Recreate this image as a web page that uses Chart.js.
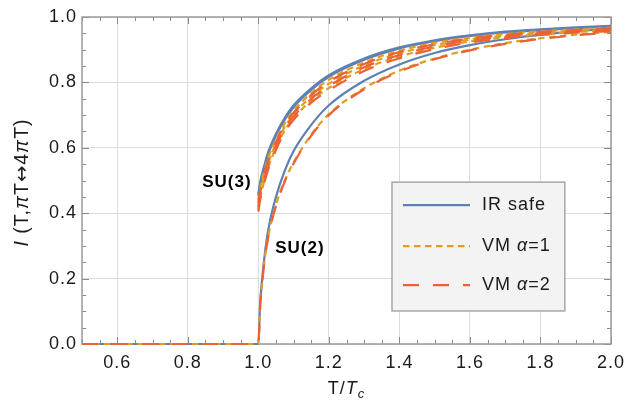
<!DOCTYPE html>
<html><head><meta charset="utf-8">
<script src="https://cdn.jsdelivr.net/npm/chart.js@4/dist/chart.umd.min.js"></script>
<style>html,body{margin:0;padding:0;background:#fff}#wrap{width:634px;height:400px}</style>
</head><body><div id="wrap"><canvas id="c" width="634" height="400"></canvas></div>
<script>
// ---- data ----
const tGrid = [0.5, 0.999, 1.0, 1.005, 1.01, 1.02, 1.03, 1.05, 1.075, 1.1, 1.15, 1.2, 1.3, 1.4, 1.5, 1.6, 1.7, 1.8, 1.9, 2.0];
// SU(3)  (null = discontinuity at T = Tc, not drawn)
const su3IrSafeA = [0, null, 0.458, 0.493, 0.518, 0.558, 0.593, 0.643, 0.692, 0.73, 0.782, 0.822, 0.873, 0.907, 0.929, 0.944, 0.955, 0.962, 0.968, 0.973];
const su3IrSafeB = [0, null, 0.452, 0.487, 0.512, 0.552, 0.587, 0.637, 0.686, 0.724, 0.777, 0.817, 0.869, 0.904, 0.926, 0.942, 0.953, 0.960, 0.966, 0.971];
const su3Vm1A    = [0, null, 0.44, 0.475, 0.5, 0.54, 0.575, 0.625, 0.675, 0.713, 0.767, 0.808, 0.861, 0.897, 0.921, 0.937, 0.948, 0.956, 0.962, 0.967];
const su3Vm1B    = [0, null, 0.425, 0.46, 0.485, 0.525, 0.56, 0.612, 0.664, 0.702, 0.756, 0.796, 0.852, 0.889, 0.914, 0.931, 0.943, 0.952, 0.958, 0.963];
const su3Vm1C    = [0, null, 0.41, 0.445, 0.47, 0.51, 0.546, 0.6, 0.653, 0.691, 0.744, 0.783, 0.841, 0.879, 0.906, 0.925, 0.938, 0.947, 0.954, 0.959];
const su3Vm2A    = [0, null, 0.432, 0.467, 0.492, 0.532, 0.567, 0.618, 0.669, 0.707, 0.761, 0.802, 0.856, 0.893, 0.917, 0.934, 0.945, 0.954, 0.96, 0.965];
const su3Vm2B    = [0, null, 0.418, 0.453, 0.478, 0.518, 0.553, 0.606, 0.658, 0.696, 0.75, 0.789, 0.846, 0.884, 0.91, 0.928, 0.94, 0.949, 0.956, 0.961];
const su3Vm2C    = [0, null, 0.405, 0.44, 0.465, 0.505, 0.54, 0.594, 0.648, 0.686, 0.738, 0.776, 0.835, 0.874, 0.902, 0.922, 0.935, 0.945, 0.952, 0.957];
// SU(2)
const su2IrSafe  = [0, 0, 0, 0.12, 0.19, 0.29, 0.36, 0.45, 0.53, 0.59, 0.67, 0.73, 0.805, 0.855, 0.89, 0.914, 0.932, 0.946, 0.957, 0.965];
const su2Vm1     = [0, 0, 0, 0.115, 0.18, 0.275, 0.34, 0.425, 0.5, 0.555, 0.64, 0.703, 0.782, 0.836, 0.873, 0.9, 0.92, 0.935, 0.946, 0.955];
const su2Vm2     = [0, 0, 0, 0.113, 0.178, 0.272, 0.337, 0.422, 0.497, 0.552, 0.637, 0.7, 0.779, 0.833, 0.871, 0.898, 0.918, 0.933, 0.944, 0.953];

const xTickLabels = [0.6, 0.8, 1.0, 1.2, 1.4, 1.6, 1.8, 2.0];
const yTickLabels = [0.0, 0.2, 0.4, 0.6, 0.8, 1.0];
const legendLabels = ['IR safe', 'VM α=1', 'VM α=2'];
const groupLabels = [{text: 'SU(3)', x: 0.911, y: 0.495}, {text: 'SU(2)', x: 1.118, y: 0.294}];

// ---- styles ----
const COLORS = {ir: '#5E81B5', vm1: '#E19C24', vm2: '#EB6235'};
const DASH = {ir: [], vm1: [6.5, 4.5], vm2: [16, 14]};
const kinds = ['ir', 'vm1', 'vm2'];
const FONT = '"Liberation Sans", Arial, sans-serif';
const ARROWFONT = '"DejaVu Sans", sans-serif';
const TXT = '#1a1a1a';

function mk(label, vals, kind, order) {
  return {
    label, kind,
    data: tGrid.map((t, i) => ({x: t, y: vals[i]})),
    borderColor: COLORS[kind], borderDash: DASH[kind], borderWidth: 2.2,
    pointRadius: 0, pointHoverRadius: 0, fill: false, clip: 5, spanGaps: false,
    cubicInterpolationMode: 'monotone', order
  };
}

const datasets = [
  mk('IR safe', su3IrSafeA, 'ir', 3), mk('IR safe', su3IrSafeB, 'ir', 3), mk('IR safe', su2IrSafe, 'ir', 3),
  mk('VM α=1', su3Vm1A, 'vm1', 2), mk('VM α=1', su3Vm1B, 'vm1', 2), mk('VM α=1', su3Vm1C, 'vm1', 2), mk('VM α=1', su2Vm1, 'vm1', 2),
  mk('VM α=2', su3Vm2A, 'vm2', 1), mk('VM α=2', su3Vm2B, 'vm2', 1), mk('VM α=2', su3Vm2C, 'vm2', 1), mk('VM α=2', su2Vm2, 'vm2', 1)
];

function rich(ctx, segs, size) {
  let w = 0;
  const out = segs.map(s => {
    const fs = s.sub ? size * 0.72 : size;
    const f = (s.italic ? 'italic ' : '') + (s.bold ? 'bold ' : '') + fs + 'px ' + (s.fam || FONT);
    ctx.font = f;
    const mw = ctx.measureText(s.t).width;
    const r = {t: s.t, f, w: mw, dy: s.sub ? size * 0.28 : 0};
    w += mw;
    return r;
  });
  return {segs: out, w};
}
function drawRich(ctx, segs, size, cx, cy) {
  const m = rich(ctx, segs, size);
  let x = cx - m.w / 2;
  ctx.textBaseline = 'middle';
  ctx.textAlign = 'left';
  for (const s of m.segs) { ctx.font = s.f; ctx.fillText(s.t, x, cy + s.dy); x += s.w; }
}

const decor = {
  id: 'decor',
  beforeDraw(chart) { chart.ctx.letterSpacing = '1px'; },
  beforeDatasetsDraw(chart) {
    const ctx = chart.ctx, ca = chart.chartArea, xs = chart.scales.x, ys = chart.scales.y;
    ctx.save();
    ctx.strokeStyle = '#8a8a8a'; ctx.lineWidth = 1;
    ctx.beginPath();
    for (let k = 10; k <= 40; k++) {
      const v = k * 0.05, px = Math.round(xs.getPixelForValue(v)) + 0.5;
      const L = (k % 4 === 0) ? 7 : 4;
      ctx.moveTo(px, ca.bottom); ctx.lineTo(px, ca.bottom - L);
      ctx.moveTo(px, ca.top); ctx.lineTo(px, ca.top + L);
    }
    for (let k = 0; k <= 20; k++) {
      const v = k * 0.05, py = Math.round(ys.getPixelForValue(v)) + 0.5;
      const L = (k % 4 === 0) ? 7 : 4;
      ctx.moveTo(ca.left, py); ctx.lineTo(ca.left + L, py);
      ctx.moveTo(ca.right, py); ctx.lineTo(ca.right - L, py);
    }
    ctx.stroke();
    ctx.strokeStyle = '#9a9a9a'; ctx.lineWidth = 1.5;
    ctx.strokeRect(ca.left, ca.top, ca.right - ca.left, ca.bottom - ca.top);
    ctx.restore();
  },
  afterDatasetsDraw(chart) {
    const ctx = chart.ctx, ca = chart.chartArea, xs = chart.scales.x, ys = chart.scales.y;
    ctx.save();
    ctx.fillStyle = '#000';
    for (const g of groupLabels) {
      drawRich(ctx, [{t: g.text, bold: true}], 17, xs.getPixelForValue(g.x), ys.getPixelForValue(g.y));
    }
    // legend
    const lx0 = xs.getPixelForValue(1.379), lx1 = xs.getPixelForValue(1.869);
    const ly0 = ys.getPixelForValue(0.495), ly1 = ys.getPixelForValue(0.101);
    ctx.fillStyle = '#f3f3f3';
    ctx.fillRect(lx0, ly0, lx1 - lx0, ly1 - ly0);
    ctx.strokeStyle = '#a8a8a8'; ctx.lineWidth = 1.5;
    ctx.strokeRect(lx0, ly0, lx1 - lx0, ly1 - ly0);
    const rowY = [23, 64, 103];
    kinds.forEach((kd, i) => {
      const y = ly0 + rowY[i];
      ctx.beginPath();
      ctx.setLineDash(DASH[kd]); ctx.lineDashOffset = 0;
      ctx.strokeStyle = COLORS[kd]; ctx.lineWidth = 2.2;
      ctx.moveTo(lx0 + 11, y); ctx.lineTo(lx0 + 78, y); ctx.stroke();
      ctx.setLineDash([]);
      ctx.fillStyle = TXT;
      const lab = legendLabels[i];
      const segs = lab.includes('α')
        ? [{t: lab.split('α')[0]}, {t: 'α', italic: true}, {t: lab.split('α')[1]}]
        : [{t: lab}];
      const m = rich(ctx, segs, 18);
      drawRich(ctx, segs, 18, lx0 + 90 + m.w / 2, y);
    });
    // axis titles
    ctx.fillStyle = TXT;
    drawRich(ctx, [{t: 'T/'}, {t: 'T', italic: true}, {t: 'c', italic: true, sub: true}], 18, (ca.left + ca.right) / 2, 389);
    ctx.save();
    ctx.translate(23, (ca.top + ca.bottom) / 2 + 2);
    ctx.rotate(-Math.PI / 2);
    drawRich(ctx, [{t: 'I', italic: true}, {t: ' (T,'}, {t: 'π', italic: true}, {t: 'T'}, {t: '↔', fam: ARROWFONT}, {t: '4'}, {t: 'π', italic: true}, {t: 'T)'}], 19.5, 0, 0);
    ctx.restore();
    ctx.restore();
  }
};

new Chart(document.getElementById('c'), {
  type: 'line',
  data: {datasets},
  options: {
    responsive: false, animation: false, events: [],
    layout: {padding: {top: 17, right: 23, left: 0, bottom: 0}},
    plugins: {legend: {display: false}, tooltip: {enabled: false}},
    scales: {
      x: {
        type: 'linear', min: 0.5, max: 2.0,
        afterBuildTicks: s => { s.ticks = xTickLabels.map(v => ({value: v})); },
        afterFit: s => { s.height = 56; },
        grid: {color: '#dcdcdc', lineWidth: 1, drawTicks: false},
        border: {display: false},
        ticks: {padding: 8, color: TXT, font: {family: FONT, size: 18}, callback: v => Number(v).toFixed(1), maxRotation: 0, autoSkip: false}
      },
      y: {
        type: 'linear', min: 0, max: 1,
        afterBuildTicks: s => { s.ticks = yTickLabels.map(v => ({value: v})); },
        afterFit: s => { s.width = 82; },
        grid: {color: '#dcdcdc', lineWidth: 1, drawTicks: false},
        border: {display: false},
        ticks: {padding: 5, color: TXT, font: {family: FONT, size: 18}, callback: v => Number(v).toFixed(1), autoSkip: false}
      }
    }
  },
  plugins: [decor]
});
</script>
</body></html>
